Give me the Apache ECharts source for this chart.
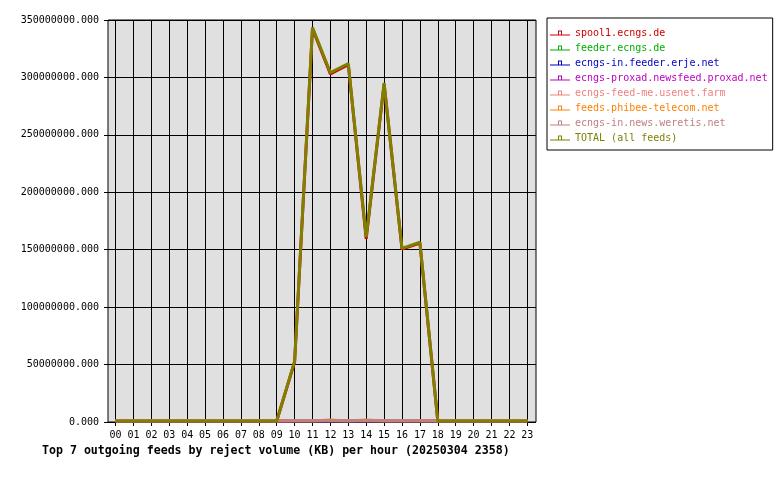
<!DOCTYPE html>
<html>
<head>
<meta charset="utf-8">
<script src="https://cdn.jsdelivr.net/npm/echarts@6/dist/echarts.min.js"></script>
<style>html,body{margin:0;padding:0;background:#fff}#c{width:780px;height:480px}</style>
</head>
<body>
<div id="c"></div>
<script>
var hours = ['00','01','02','03','04','05','06','07','08','09','10','11','12','13','14','15','16','17','18','19','20','21','22','23'];
var yTicks = [0, 50000000, 100000000, 150000000, 200000000, 250000000, 300000000, 350000000];
var feedNames = ['spool1.ecngs.de','feeder.ecngs.de','ecngs-in.feeder.erje.net','ecngs-proxad.newsfeed.proxad.net','ecngs-feed-me.usenet.farm','feeds.phibee-telecom.net','ecngs-in.news.weretis.net','TOTAL (all feeds)'];
var feedColors = ['#d00000','#00b000','#0000c0','#c000c0','#f08080','#ff8000','#c08080','#808000'];
var spool1  = [0,0,0,0,0,0,0,0,0,0,51500000,342500000,303000000,311000000,159000000,294000000,150000000,155300000,0,0,0,0,0,0];
var feeder  = [0,0,0,0,0,0,0,0,0,0,0,0,0,0,0,0,0,0,0,0,0,0,0,0];
var erje    = [0,0,0,0,0,0,0,0,0,0,0,0,0,0,0,0,0,0,0,0,0,0,0,0];
var proxad  = [0,0,0,0,0,0,0,0,0,0,0,0,0,0,0,0,0,0,0,0,0,0,0,0];
var feedme  = [0,0,0,0,0,0,0,0,0,0,0,0,0,0,0,0,0,0,0,0,0,0,0,0];
var phibee  = [0,0,0,0,0,0,0,0,0,0,0,0,900000,0,900000,0,0,0,0,0,0,0,0,0];
var weretis = [0,0,0,0,0,0,0,0,0,0,400000,400000,400000,400000,400000,400000,400000,400000,0,0,0,0,0,0];
var total   = [0,0,0,0,0,0,0,0,0,0,52000000,343500000,304000000,312000000,160500000,295000000,150700000,156000000,0,0,0,0,0,0];
var seriesData = [spool1, feeder, erje, proxad, feedme, phibee, weretis, total];

var mono = 'DejaVu Sans Mono';
var chart = echarts.init(document.getElementById('c'));
var yMin = yTicks[0], yMax = yTicks[yTicks.length - 1], yStep = yTicks[1] - yTicks[0];

chart.setOption({
  animation: false,
  backgroundColor: '#ffffff',
  title: {
    text: 'Top 7 outgoing feeds by reject volume (KB) per hour (20250304 2358)',
    left: 42, top: 445, padding: 0,
    textStyle: { fontFamily: mono, fontSize: 11.6, fontWeight: 'bold', color: '#000' }
  },
  legend: {
    orient: 'vertical',
    left: 547, top: 18,
    padding: [9, 5, 6, 3],
    borderColor: '#000', borderWidth: 1,
    itemWidth: 20, itemHeight: 5, itemGap: 3,
    icon: 'path://M0,4h20v1h-20z M8,0h4v1h-4z M8,0h1v4h-1z M11,0h1v4h-1z',
    textStyle: { fontFamily: mono, fontSize: 10, lineHeight: 12 },
    data: feedNames.map(function (n, i) { return { name: n, textStyle: { color: feedColors[i] } }; })
  },
  grid: [
    { left: 108, top: 20, width: 428, height: 402, show: true, backgroundColor: '#e0e0e0', borderColor: '#000', borderWidth: 1 },
    { left: 115.6, top: 20, width: 411.7, height: 401 }
  ],
  xAxis: [
    { gridIndex: 0, type: 'value', show: false },
    {
      gridIndex: 1, type: 'category', data: hours, boundaryGap: false,
      axisLine: { show: false },
      axisTick: { show: true, inside: false, length: 5, interval: 0, lineStyle: { color: '#000' } },
      axisLabel: { interval: 0, margin: 9, fontFamily: mono, fontSize: 10, color: '#000' },
      splitLine: { show: true, interval: 0, lineStyle: { color: '#000', width: 1 } }
    }
  ],
  yAxis: [
    {
      gridIndex: 0, type: 'value', min: yMin, max: yMax, interval: yStep,
      axisLine: { show: false },
      axisTick: { show: true, inside: false, length: 4, lineStyle: { color: '#000' } },
      axisLabel: { margin: 9, fontFamily: mono, fontSize: 10, color: '#000', formatter: function (v) { return v.toFixed(3); } },
      splitLine: { show: true, lineStyle: { color: '#000', width: 1 } }
    },
    { gridIndex: 1, type: 'value', min: yMin, max: yMax, interval: yStep, show: false, splitLine: { show: false } }
  ],
  series: feedNames.map(function (n, i) {
    return {
      name: n, type: 'line', xAxisIndex: 1, yAxisIndex: 1,
      data: seriesData[i], symbol: 'none', color: feedColors[i],
      lineStyle: { width: 3, color: feedColors[i] }
    };
  })
});
</script>
</body>
</html>
